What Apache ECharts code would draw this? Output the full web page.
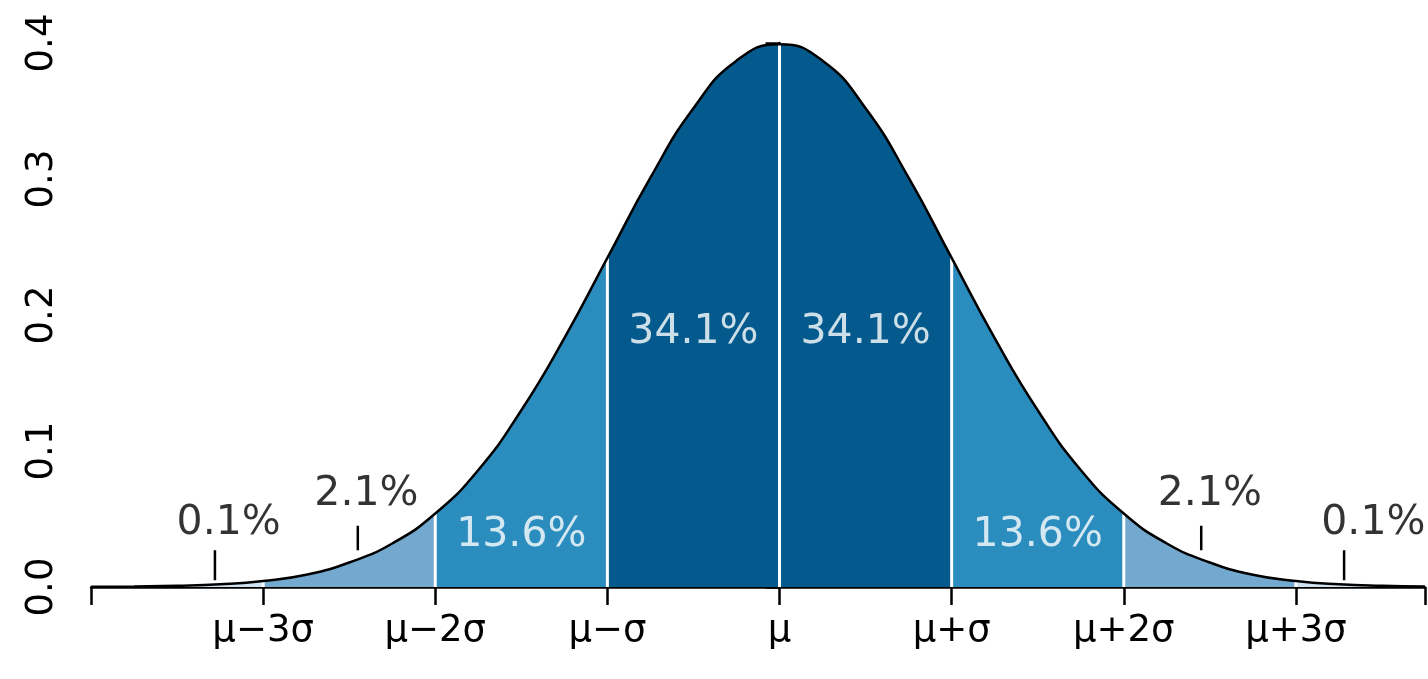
<!DOCTYPE html>
<html><head><meta charset="utf-8">
<script src="https://cdn.jsdelivr.net/npm/echarts@6/dist/echarts.min.js"></script>
<style>html,body{margin:0;background:#fff}#c{width:1428px;height:679px}</style></head>
<body><div id="c"></div>
<script>
// x in units of sigma from the mean, y = density
const xs = [-4,-3.75,-3.5,-3.25,-3,-2.75,-2.5,-2.25,-2,-1.75,-1.5,-1.25,-1,-0.75,-0.5,-0.25,0,0.25,0.5,0.75,1,1.25,1.5,1.75,2,2.25,2.5,2.75,3,3.25,3.5,3.75];
const ys = [0.0001,0.0004,0.0009,0.002,0.0044,0.009,0.018,0.032,0.054,0.086,0.130,0.183,0.242,0.301,0.352,0.387,0.399,0.387,0.352,0.301,0.242,0.183,0.130,0.086,0.054,0.032,0.018,0.009,0.0044,0.002,0.0009,0.0004];
const tickLabels = {'-3':'μ−3σ','-2':'μ−2σ','-1':'μ−σ','0':'μ','1':'μ+σ','2':'μ+2σ','3':'μ+3σ'};
const bands = [[-4,-3],[-3,-2],[-2,-1],[-1,1],[1,2],[2,3],[3,3.75]];
const bandColors = ['#d0e1f0','#74a9cf','#2b8cbe','#045a8d','#2b8cbe','#74a9cf','#d0e1f0'];
const whiteLines = [-3,-2,-1,0,1,2,3];
const pctLabels = [
  {x:-0.5,y:0.187,t:'34.1%',c:'#fff'},{x:0.5,y:0.187,t:'34.1%',c:'#fff'},
  {x:-1.5,y:0.038,t:'13.6%',c:'#fff'},{x:1.5,y:0.038,t:'13.6%',c:'#fff'},
  {x:-2.4,y:0.068,t:'2.1%',c:'#000'},{x:2.5,y:0.068,t:'2.1%',c:'#000'},
  {x:-3.2,y:0.047,t:'0.1%',c:'#000'},{x:3.45,y:0.047,t:'0.1%',c:'#000'}];
const pctTicks = [[-2.45,0.027,0.045],[2.45,0.027,0.045],[-3.28,0.005,0.027],[3.28,0.005,0.027]];

const pts = xs.map((x,i)=>[x,ys[i]]);
const series = [];
bands.forEach((b,i)=>{
  series.push({type:'line',smooth:true,symbol:'none',lineStyle:{width:0},
    areaStyle:{color:bandColors[i],opacity:1},
    data:pts.filter(p=>p[0]>=b[0]&&p[0]<=b[1])});
});
whiteLines.forEach(x=>{
  const y = ys[xs.indexOf(x)];
  series.push({type:'line',symbol:'none',lineStyle:{color:'#fff',width:3},data:[[x,0],[x,y]],z:3});
});
series.push({type:'line',smooth:true,symbol:'none',lineStyle:{color:'#000',width:2.5},data:pts,z:4});
pctTicks.forEach(t=>series.push({type:'line',symbol:'none',lineStyle:{color:'#000',width:2.5},data:[[t[0],t[1]],[t[0],t[2]]],z:4}));
series.push({type:'scatter',symbolSize:0,z:5,
  data:pctLabels.map(p=>({value:[p.x,p.y],label:{show:true,position:'inside',formatter:p.t,color:p.c,fontSize:41,fontFamily:'DejaVu Sans'}}))});

const chart = echarts.init(document.getElementById('c'));
chart.setOption({
  animation:false,
  grid:{left:91,right:0,top:43,bottom:92},
  xAxis:{type:'value',min:-4,max:3.75,interval:1,splitLine:{show:false},
    axisLine:{lineStyle:{color:'#000',width:2.5}},
    axisTick:{length:18,lineStyle:{color:'#000',width:2.5}},
    axisLabel:{fontSize:37,fontFamily:'DejaVu Sans',color:'#000',margin:26,
      formatter:v=>tickLabels[String(v)]||''}},
  yAxis:{type:'value',min:0,max:0.4,interval:0.1,splitLine:{show:false},
    axisLine:{show:true,lineStyle:{color:'#000',width:2.5}},
    axisTick:{show:true,length:14,lineStyle:{color:'#000',width:2.5}},
    axisLabel:{fontSize:37,fontFamily:'DejaVu Sans',color:'#000',rotate:90,margin:30,align:'center',
      formatter:v=>v.toFixed(1)}},
  series
});
</script></body></html>
